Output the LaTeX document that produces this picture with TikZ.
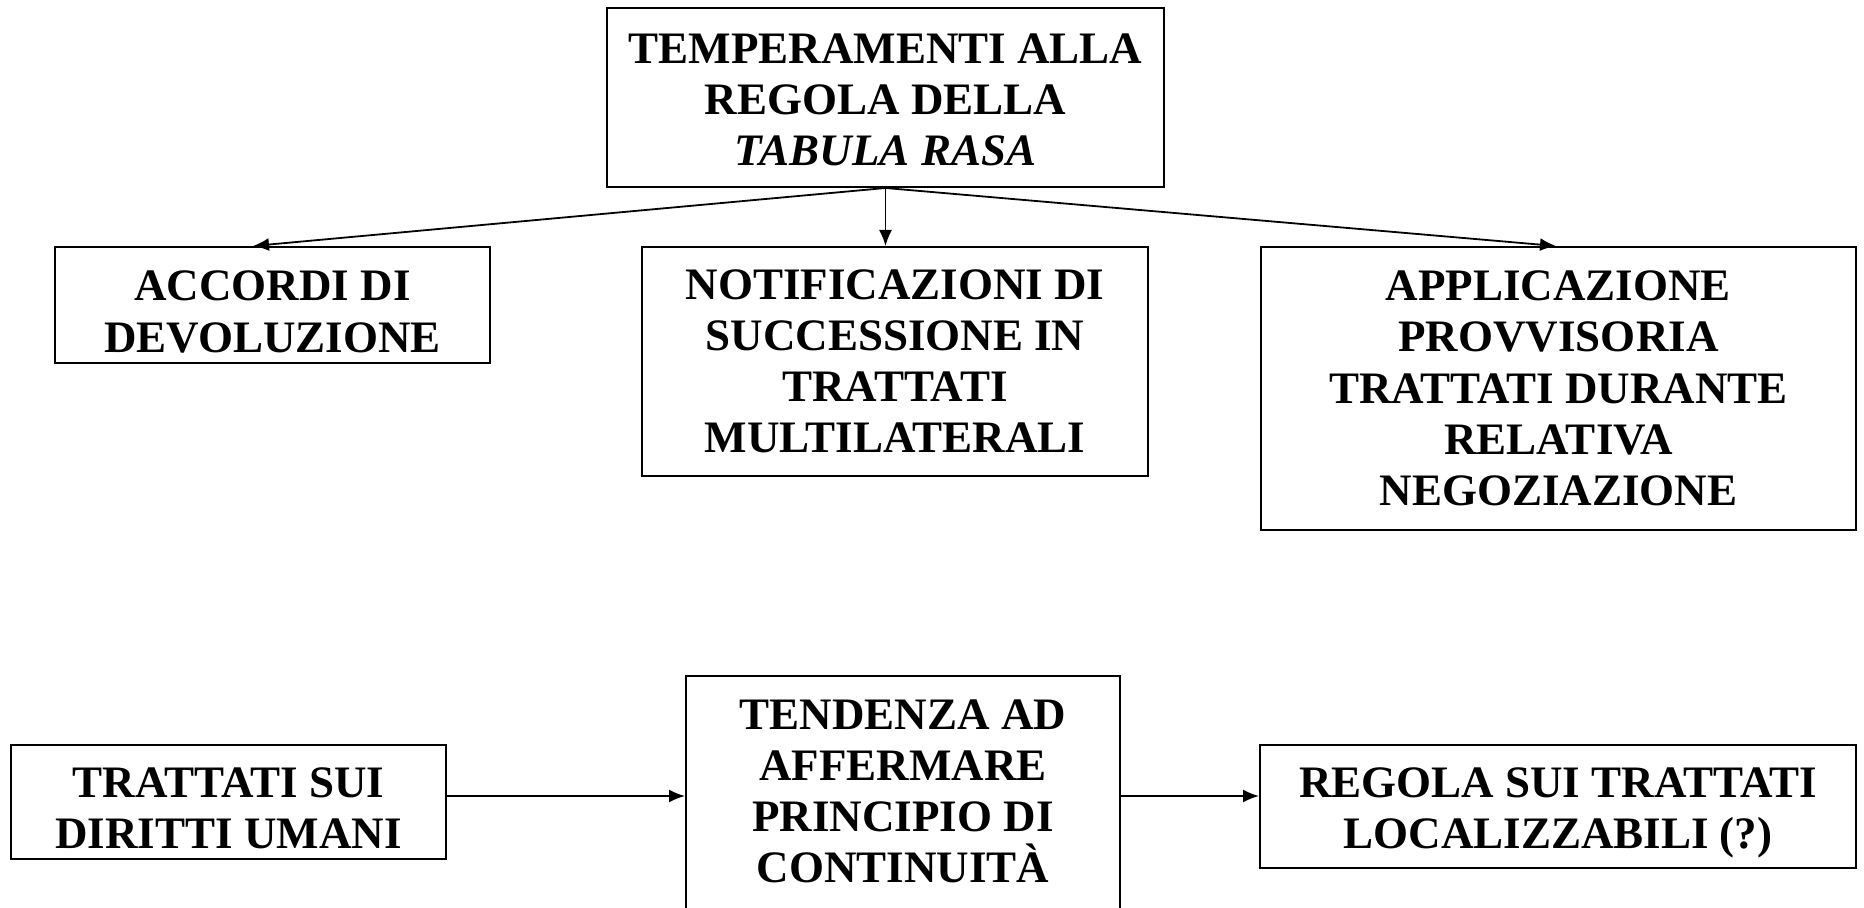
\documentclass[tikz,border=0pt]{standalone}
\usepackage{fontspec}
\setmainfont{Liberation Serif}
\usetikzlibrary{arrows.meta,calc}
\begin{document}
\begin{tikzpicture}[x=0.5pt,y=-0.5pt,
  box/.style={draw,line width=1pt,inner sep=0pt},
  txt/.style={align=center,inner sep=0pt,
    font=\fontsize{22.5}{25.6}\selectfont\bfseries},
  conn/.style={line width=0.9pt,-{Latex[length=8pt,width=6.5pt]}}]
\useasboundingbox (0,0) rectangle (1864,908);
\node[box,minimum width=557*0.5pt,minimum height=179*0.5pt] (top) at (885.5,97.5) {};
\node[txt,yshift=-1.2pt] (topt) at (top)
  {TEMPERAMENTI ALLA\\REGOLA DELLA\\\textit{TABULA RASA}};
\node[box,minimum width=435*0.5pt,minimum height=116*0.5pt] (acc) at (272.5,305) {};
\node[txt,yshift=-3.5pt] (acct) at (acc) {ACCORDI DI\\DEVOLUZIONE};
\node[box,minimum width=506*0.5pt,minimum height=229*0.5pt] (notif) at (895,361.5) {};
\node[txt] (notift) at (notif)
  {NOTIFICAZIONI DI\\SUCCESSIONE IN\\TRATTATI\\MULTILATERALI};
\node[box,minimum width=595*0.5pt,minimum height=283*0.5pt] (appl) at (1558.5,388.5) {};
\node[txt] (applt) at (appl)
  {APPLICAZIONE\\PROVVISORIA\\TRATTATI DURANTE\\RELATIVA\\NEGOZIAZIONE};
\node[box,minimum width=435*0.5pt,minimum height=114*0.5pt] (dir) at (228.5,802) {};
\node[txt,yshift=-3pt] (dirt) at (dir) {TRATTATI SUI\\DIRITTI UMANI};
\node[box,minimum width=434*0.5pt,minimum height=238*0.5pt] (tend) at (903,795) {};
\node[txt,yshift=1.8pt] (tendt) at (tend)
  {TENDENZA AD\\AFFERMARE\\PRINCIPIO DI\\CONTINUIT\`A};
\node[box,minimum width=596*0.5pt,minimum height=123*0.5pt] (reg) at (1558,806.5) {};
\node[txt,yshift=-3pt] (regt) at (reg) {REGOLA SUI TRATTATI\\LOCALIZZABILI (?)};
\draw[conn] (top.south) -- ($(acc.north)+(-19.5,0)$);
\draw[conn] (top.south) -- (top.south |- notif.north);
\draw[conn] (top.south) -- ($(appl.north)+(-2.5,0)$);
\draw[conn] ($(dir.east)+(0,-6)$) coordinate (d1) -- (d1 -| tend.west);
\draw[conn] ($(tend.east)+(0,1)$) coordinate (t1) -- (t1 -| reg.west);
\end{tikzpicture}
\end{document}
